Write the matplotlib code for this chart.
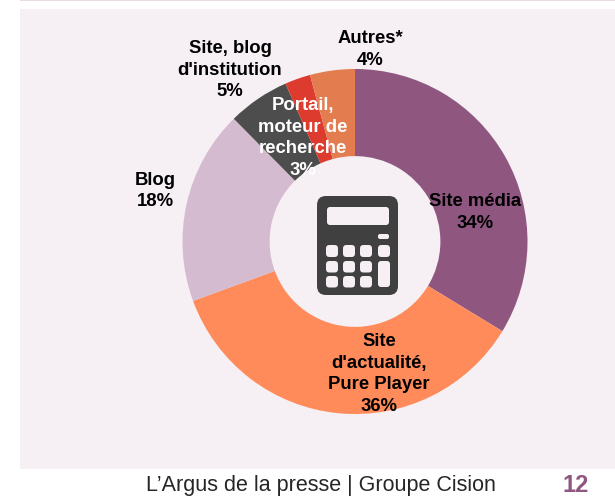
import matplotlib
matplotlib.use('Agg')
from matplotlib import pyplot as plt
from matplotlib.patches import FancyBboxPatch, Rectangle

labels = ['Site média', 'Site actualité', 'Blog', 'Site blog', 'Portail', 'Autres']
# slice sizes, the printed labels are rounded
values = [33.7, 35.7, 18.2, 5.8, 2.4, 4.2]
colors = ['#8F5780', '#FF8B5A', '#D5BBCF', '#4D4D4D', '#DE3B2F', '#E37D50']

W, H = 615, 498
BG = '#F6EFF4'
DARK = '#404040'

plt.rcParams['font.family'] = ['Liberation Sans', 'DejaVu Sans']

fig = plt.figure(figsize=(W / 100, H / 100), dpi=100, facecolor='white')

# background layer in pixel coords
ax = fig.add_axes((0, 0, 1, 1))
ax.set_xlim(0, W)
ax.set_ylim(H, 0)
ax.axis('off')
ax.add_patch(Rectangle((20, 9), W - 20, 460, fc=BG, ec='none'))
ax.add_patch(Rectangle((20, 0), W - 20, 1.2, fc='#EADCE6', ec='none'))

# donut
cx, cy, r = 355, 241.5, 172.5
pie_ax = fig.add_axes(((cx - r) / W, 1 - (cy + r) / H, 2 * r / W, 2 * r / H))
pie_ax.set_facecolor('none')
pie_ax.pie(values, colors=colors, startangle=90, counterclock=False, radius=1,
           wedgeprops=dict(width=0.505, linewidth=0), normalize=True)
pie_ax.set_xlim(-1, 1)
pie_ax.set_ylim(-1, 1)

# icon + text on top
top = fig.add_axes((0, 0, 1, 1))
top.set_xlim(0, W)
top.set_ylim(H, 0)
top.axis('off')
top.set_facecolor('none')


def rbox(x0, y0, x1, y1, rad, color):
    top.add_patch(FancyBboxPatch((x0 + rad, y0 + rad), x1 - x0 - 2 * rad, y1 - y0 - 2 * rad,
                                 boxstyle='round,pad=%f,rounding_size=%f' % (rad, rad),
                                 fc=color, ec='none'))


rbox(317, 196, 398, 295, 9, DARK)
rbox(327, 207, 389, 225, 3, BG)
rbox(378, 234, 389, 239, 2, BG)
for x0 in (326, 343, 360, 378):
    rbox(x0, 245, x0 + 12, 257, 3.5, BG)
for y0 in (261, 276):
    for x0 in (326, 343, 360):
        rbox(x0, y0, x0 + 12, y0 + 11.5, 3.5, BG)
rbox(378, 261, 390, 287, 3, BG)

FS = 13.3
LS = 1.38
slice_text = [
    (370, 49.5, 'Autres*\n4%', 'black'),
    (230, 70, "Site, blog\nd'institution\n5%", 'black'),
    (155, 191, 'Blog\n18%', 'black'),
    (303, 138, 'Portail,\nmoteur de\nrecherche\n3%', 'white'),
    (475, 212.5, 'Site média\n34%', 'black'),
    (379, 374, "Site\nd'actualité,\nPure Player\n36%", 'black'),
]
for x, y, s, c in slice_text:
    top.text(x, y, s, ha='center', va='center', fontsize=FS, fontweight='bold',
             color=c, linespacing=LS)

top.text(320.5, 485, 'L’Argus de la presse | Groupe Cision', ha='center', va='center',
         fontsize=15.5, color='#262626')
top.text(576, 485, '12', ha='center', va='center', fontsize=17, fontweight='bold',
         color='#8F5780')

fig.savefig('out.png', dpi=100)
